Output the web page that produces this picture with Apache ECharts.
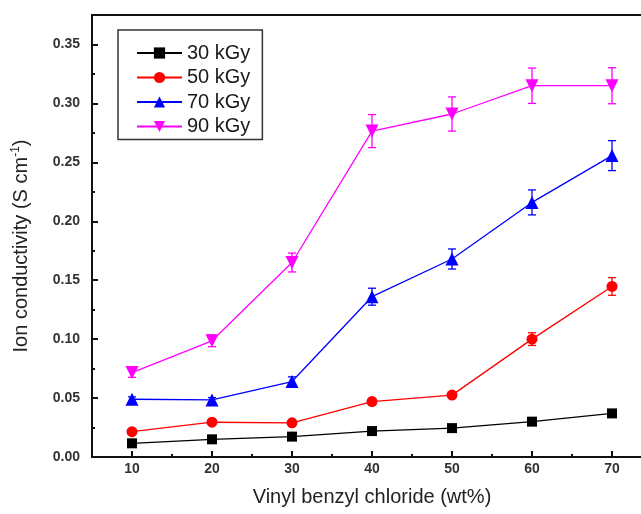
<!DOCTYPE html>
<html>
<head>
<meta charset="utf-8">
<script src="https://cdn.jsdelivr.net/npm/echarts@6/dist/echarts.min.js"></script>
<style>
  html, body { margin: 0; padding: 0; background: #fff; }
  #chart { width: 641px; height: 514px; }
</style>
</head>
<body>
<div id="chart"></div>
<script>
  // x positions (wt% vinyl benzyl chloride)
  var wt = [10, 20, 30, 40, 50, 60, 70];

  // ion conductivity per dose, S cm-1
  var kGy30 = [0.0116, 0.015, 0.0173, 0.022, 0.0245, 0.030, 0.037];
  var kGy50 = [0.0215, 0.0295, 0.029, 0.047, 0.0525, 0.100, 0.1447];
  var kGy70 = [0.049, 0.0484, 0.064, 0.136, 0.168, 0.216, 0.2557];
  var kGy90 = [0.0716, 0.0986, 0.165, 0.2765, 0.291, 0.315, 0.315];

  // error bar half widths
  var err30 = [0.001, 0.001, 0.001, 0.001, 0.001, 0.001, 0.001];
  var err50 = [0.002, 0.002, 0.002, 0.002, 0.002, 0.0054, 0.0075];
  var err70 = [0.002, 0.002, 0.004, 0.0072, 0.0085, 0.0106, 0.0127];
  var err90 = [0.004, 0.005, 0.008, 0.014, 0.0145, 0.015, 0.0153];

  var names = ['30 kGy', '50 kGy', '70 kGy', '90 kGy'];
  var colors = ['#000000', '#ff0000', '#0000ff', '#ff00ff'];

  var xMajor = [10, 20, 30, 40, 50, 60, 70];
  var xMinor = [15, 25, 35, 45, 55, 65];
  var yMajor = [0, 0.05, 0.1, 0.15, 0.2, 0.25, 0.3, 0.35];
  var yMinor = [0.025, 0.075, 0.125, 0.175, 0.225, 0.275, 0.325];

  var myChart = echarts.init(document.getElementById('chart'));

  function pairs(ys, errs) {
    var out = [];
    for (var i = 0; i < wt.length; i++) {
      out.push(errs ? [wt[i], ys[i], errs[i]] : [wt[i], ys[i]]);
    }
    return out;
  }

  function errorBars(api) {
    var x = api.value(0), y = api.value(1), e = api.value(2);
    var hi = api.coord([x, y + e]);
    var lo = api.coord([x, y - e]);
    var st = { stroke: api.visual('color'), lineWidth: 1.3 };
    return {
      type: 'group',
      children: [
        { type: 'line', shape: { x1: hi[0], y1: hi[1], x2: lo[0], y2: lo[1] }, style: st },
        { type: 'line', shape: { x1: hi[0] - 4, y1: hi[1], x2: hi[0] + 4, y2: hi[1] }, style: st },
        { type: 'line', shape: { x1: lo[0] - 4, y1: lo[1], x2: lo[0] + 4, y2: lo[1] }, style: st }
      ]
    };
  }

  var lineData = [kGy30, kGy50, kGy70, kGy90];
  var errData = [err30, err50, err70, err90];
  var symbols = ['rect', 'circle', 'triangle', 'triangle'];
  var sizes = [10, 11, 13, 13];
  var rotates = [0, 0, 0, 180];

  var series = [];
  for (var k = 0; k < 4; k++) {
    series.push({
      name: names[k] + ' err',
      type: 'custom',
      renderItem: function (params, api) { return errorBars(api); },
      itemStyle: { color: colors[k] },
      data: pairs(lineData[k], errData[k]),
      z: 1,
      silent: true
    });
  }
  for (var k = 0; k < 4; k++) {
    series.push({
      name: names[k],
      type: 'line',
      data: pairs(lineData[k]),
      symbol: symbols[k],
      symbolSize: sizes[k],
      symbolRotate: rotates[k],
      color: colors[k],
      itemStyle: { color: colors[k] },
      lineStyle: { color: colors[k], width: 1.3 },
      z: 3
    });
  }

  var tickFont = { fontFamily: 'Liberation Sans', fontWeight: 'bold', fontSize: 14, color: '#333' };

  var option = {
    animation: false,
    backgroundColor: '#fff',
    grid: {
      left: 92, top: 15, width: 560, height: 442,
      outerBoundsMode: 'none',
      show: true, borderColor: '#111', borderWidth: 2
    },
    legend: {
      data: names,
      orient: 'vertical',
      left: 118,
      top: 30,
      padding: [13, 12, 3, 18],
      itemWidth: 45,
      itemHeight: 14,
      itemGap: 4.5,
      borderColor: '#333',
      borderWidth: 1.5,
      textStyle: { fontFamily: 'Liberation Sans', fontSize: 20, color: '#1a1a1a' }
    },
    xAxis: [
      {
        type: 'value', min: 5, max: 75, position: 'bottom',
        name: 'Vinyl benzyl chloride (wt%)',
        nameLocation: 'middle', nameGap: 30,
        nameTextStyle: { fontFamily: 'Liberation Sans', fontSize: 20, color: '#222' },
        axisLine: { lineStyle: { color: '#111', width: 2 } },
        axisTick: { inside: true, length: 6, customValues: xMajor, lineStyle: { color: '#111', width: 2 } },
        axisLabel: Object.assign({ customValues: xMajor, margin: 5 }, tickFont),
        splitLine: { show: false }
      },
      {
        type: 'value', min: 5, max: 75, position: 'bottom',
        axisLine: { show: false },
        axisTick: { inside: true, length: 3, customValues: xMinor, lineStyle: { color: '#111', width: 2 } },
        axisLabel: { show: false },
        splitLine: { show: false }
      }
    ],
    yAxis: [
      {
        type: 'value', min: 0, max: 0.375, position: 'left',
        name: '{t|Ion conductivity (S cm}{s|-1}{t|)}',
        nameLocation: 'middle', nameGap: 60,
        nameTextStyle: {
          padding: [0, 20, 0, 0],
          rich: {
            t: { fontFamily: 'Liberation Sans', fontSize: 20, color: '#222' },
            s: { fontFamily: 'Liberation Sans', fontSize: 12, color: '#222', verticalAlign: 'top', padding: [0, 0, 10, 0] }
          }
        },
        axisLine: { lineStyle: { color: '#111', width: 2 } },
        axisTick: { inside: true, length: 6, customValues: yMajor, lineStyle: { color: '#111', width: 2 } },
        axisLabel: Object.assign({
          customValues: yMajor, margin: 12,
          formatter: function (v) { return v.toFixed(2); }
        }, tickFont),
        splitLine: { show: false }
      },
      {
        type: 'value', min: 0, max: 0.375, position: 'left',
        axisLine: { show: false },
        axisTick: { inside: true, length: 3, customValues: yMinor, lineStyle: { color: '#111', width: 2 } },
        axisLabel: { show: false },
        splitLine: { show: false }
      }
    ],
    series: series
  };

  myChart.setOption(option);
</script>
</body>
</html>
